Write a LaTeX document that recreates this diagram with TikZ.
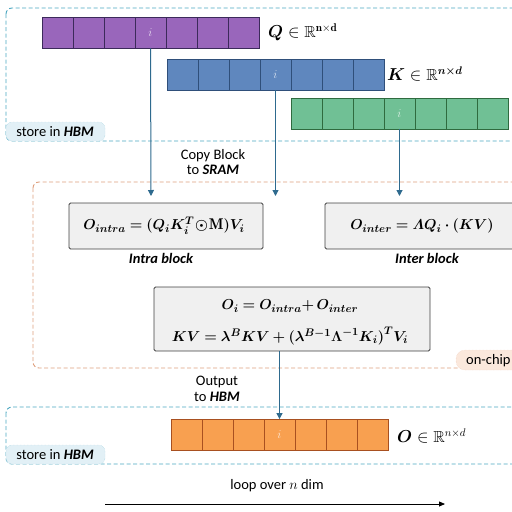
\documentclass[tikz,border=0pt]{standalone}
\usepackage{amsmath,amssymb,bm}
\usepackage{fontspec}
\newfontfamily\lab{Carlito}
\usetikzlibrary{arrows.meta}
\definecolor{qf}{HTML}{9966BB}\definecolor{qd}{HTML}{3C2A5A}
\definecolor{kf}{HTML}{5F87BE}\definecolor{kd}{HTML}{2F4F7A}
\definecolor{gf}{HTML}{70C095}\definecolor{gd}{HTML}{2F6B3F}
\definecolor{of}{HTML}{F8A050}\definecolor{od}{HTML}{A85020}
\definecolor{hbm}{HTML}{4AA6C0}\definecolor{hbmfill}{HTML}{E2F0F6}
\definecolor{chip}{HTML}{DE9E7C}\definecolor{chipfill}{HTML}{FBE8DC}
\definecolor{arr}{HTML}{2E6A8E}
\begin{document}
\begin{tikzpicture}[x=1pt,y=-1pt,
  cell/.style={draw, minimum width=31pt, minimum height=31pt, inner sep=0pt, line width=0.8pt},
  idx/.style={text=white!75!#1, font=\fontsize{12}{12}\selectfont, inner sep=0pt},
  fbox/.style={draw=black!75, fill=black!6, rounded corners=1.5pt, line width=0.8pt},
  mlab/.style={font=\fontsize{16}{18}\selectfont, inner sep=0pt, anchor=west},
  slab/.style={font=\lab\fontsize{14.5}{15.5}\selectfont, align=center, inner sep=0pt},
  blab/.style={font=\lab\bfseries\itshape\fontsize{14.5}{15.5}\selectfont, inner sep=0pt},
  fml/.style={font=\fontsize{15.5}{18}\selectfont, inner sep=0pt},
  hbmbox/.style={draw=hbm, dash pattern=on 4pt off 2.5pt, line width=0.9pt, rounded corners=6pt},
  chipbox/.style={draw=chip, dash pattern=on 4pt off 2.5pt, line width=0.9pt, rounded corners=6pt},
  flow/.style={draw=arr, line width=1pt, -{Triangle[length=6pt,width=6pt]}}
]
\useasboundingbox (0,0) rectangle (512,512);
\clip (0,0) rectangle (512,512);

% memory regions
\draw[hbmbox] (6,8) rectangle (540,141);
\draw[hbmbox] (6,407) rectangle (540,464);
\draw[chipbox] (33,182) rectangle (540,368);
\node[draw=hbm!50, fill=hbmfill, densely dotted, rounded corners=6pt, minimum width=99pt, minimum height=19pt, inner sep=0pt] (hbmtop) at (55.5,131.5) {};
\node[slab] (hbmtoptxt) at (55,132) {store in \textbf{\textit{HBM}}};
\node[draw=hbm!50, fill=hbmfill, densely dotted, rounded corners=6pt, minimum width=99pt, minimum height=19pt, inner sep=0pt] (hbmbot) at (55.5,454.5) {};
\node[slab] (hbmbottxt) at (55,455) {store in \textbf{\textit{HBM}}};
\node[draw=chip!50, fill=chipfill, densely dotted, rounded corners=9pt, minimum width=90pt, minimum height=20pt, inner sep=0pt] (chippill) at (501,360) {};
\node[slab, anchor=west] (chiptxt) at (466,361) {on-chip};

% bars
\foreach \k in {1,...,7} {
  \node[cell, fill=qf, draw=qd] (q\k) at ({57.5+31*(\k-1)},32.5) {};
  \node[cell, fill=kf, draw=kd] (k\k) at ({182.5+31*(\k-1)},74.5) {};
  \node[cell, fill=gf, draw=gd] (g\k) at ({306.5+31*(\k-1)},113.5) {};
  \node[cell, fill=of, draw=od] (o\k) at ({186.5+31*(\k-1)},435) {};
}
\node[idx=qf] (qi) at (q4) {$i$};
\node[idx=kf] (ki) at (k4) {$i$};
\node[idx=gf] (gi) at (g4) {$i$};
\node[idx=of] (oi) at (o4) {$i$};

\node[mlab] (qlab) at (268,32) {$\bm{Q}\in\mathbb{R}^{\mathbf{n\times d}}$};
\node[mlab] (klab) at (387,74) {$\bm{K}\in\mathbb{R}^{\bm{n\times d}}$};
\node[mlab] (olab) at (397,436) {$\bm{O}\in\mathbb{R}^{n\times d}$};

% compute boxes
\node[fbox, minimum width=194pt, minimum height=46pt, inner sep=0pt] (intra) at (166,226) {};
\node[fml] (intratxt) at (164,226) {$\bm{O_{intra} = (Q_iK_i^T\!\odot\! \mathrm{M})V_i}$};
\node[fbox, minimum width=194pt, minimum height=46pt, inner sep=0pt] (inter) at (422,226) {};
\node[fml] (intertxt) at (422,226) {$\bm{O_{inter} = \varLambda Q_i\cdot (KV)}$};
\node[blab] (intralab) at (161,258.5) {Intra block};
\node[blab] (interlab) at (427,258.5) {Inter block};
\node[fbox, minimum width=276pt, minimum height=64pt, inner sep=0pt] (comb) at (292,319) {};
\node[fml] (comb1) at (290,306) {$\bm{O_i = O_{intra}{+}\, O_{inter}}$};
\node[fml] (comb2) at (290,336) {$\bm{KV = \lambda^B KV + (\lambda^{B-1}\Lambda^{-1}K_i)^TV_i}$};

% flows
\coordinate (qend) at (151,196);
\coordinate (kend) at (275.5,196);
\coordinate (gend) at (399.5,196);
\draw[flow] (q4.south) -- (qend);
\draw[flow] (k4.south) -- (kend);
\draw[flow] (g4.south) -- (gend);
\draw[flow] (o4.north |- comb.south) -- (o4.north);

\node[slab] (copy) at (213,162) {Copy Block\\to \textbf{\textit{SRAM}}};
\node[slab] (out) at (217,389) {Output\\to \textbf{\textit{HBM}}};

% loop
\node[slab] (loop) at (277,486) {loop over $n$ dim};
\coordinate (la) at (105,504);
\coordinate (lb) at (445,504);
\draw[line width=0.8pt, -{Triangle[length=6pt,width=5pt]}] (la) -- (lb);
\end{tikzpicture}
\end{document}
